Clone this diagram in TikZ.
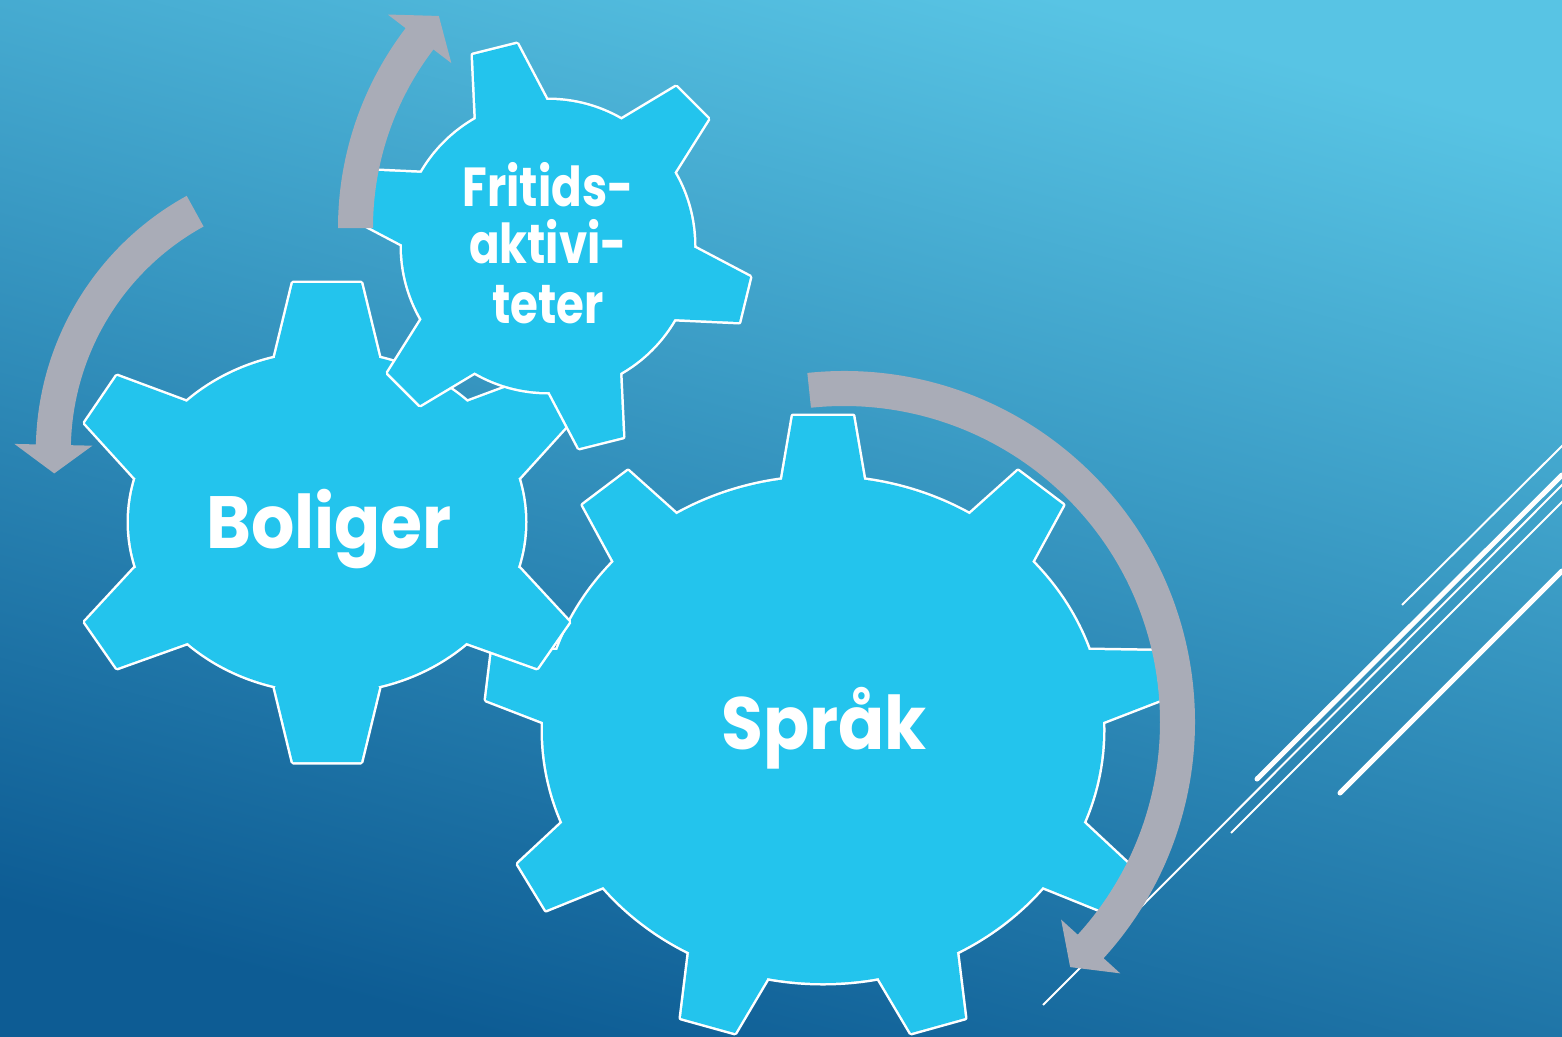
\documentclass[tikz,border=0pt]{standalone}
\usepackage{fontspec}
\newfontfamily\gearfont{Poppins}[FakeStretch=0.92]
\newfontfamily\gearfontsmall{Poppins}[FakeStretch=0.82]
\usetikzlibrary{calc}
\definecolor{geartint}{RGB}{35,196,237}
\definecolor{arrowgrey}{RGB}{169,172,183}
\definecolor{bgtop}{RGB}{88,196,228}
\definecolor{bgbot}{RGB}{13,92,148}
\tikzset{
  gearline/.style={draw=white, line width=5pt, line join=round},
  gearfill/.style={fill=geartint},
  decothin/.style={draw=white, line width=2pt},
  decothick/.style={draw=white, line width=5pt, line cap=round},
  arrowshape/.style={fill=arrowgrey},
  bigtext/.style={text=white, inner sep=0pt, anchor=base, font=\gearfont\bfseries\fontsize{74}{76}\selectfont},
  smalltext/.style={text=white, inner sep=0pt, anchor=base, font=\gearfontsmall\bfseries\fontsize{55}{57}\selectfont}
}
% tooth: style, centre, four outline points
\newcommand\gtooth[6]{\path[#1] (#3) -- (#4) -- (#5) -- (#6) -- (#2) -- cycle;}
% circular arrow: centre, mid radius, half width, barb offset, tail angle, end angle, tip angle
\newcommand\cirarrow[7]{%
  \fill[arrowshape] ($(#1)+(#5:{#2+#3})$) arc[start angle=#5, end angle=#6, radius={#2+#3}]
    -- ($(#1)+(#6:{#2+#4})$) -- ($(#1)+(#7:#2)$) -- ($(#1)+(#6:{#2-#4})$)
    -- ($(#1)+(#6:{#2-#3})$) arc[start angle=#6, end angle=#5, radius={#2-#3}] -- cycle;}
\newcommand\spraakteeth[1]{%
  \gtooth{#1}{823,730}{782,480}{793,416}{853,416}{864,480}
  \gtooth{#1}{823,730}{970,514}{1018,471}{1063,505}{1032,562}
  \gtooth{#1}{823,730}{1089,650}{1154,651}{1160,700}{1103,722}
  \gtooth{#1}{823,730}{1084,823}{1128,864}{1100,910}{1043,887}
  \gtooth{#1}{823,730}{957,953}{965,1018}{911,1033}{879,979}
  \gtooth{#1}{823,730}{767,979}{735,1033}{681,1018}{689,953}
  \gtooth{#1}{823,730}{603,887}{546,910}{518,864}{562,823}
  \gtooth{#1}{823,730}{543,722}{486,700}{492,651}{557,650}
  \gtooth{#1}{823,730}{614,562}{583,505}{628,471}{676,514}}
\newcommand\boligteeth[1]{%
  \gtooth{#1}{327,522}{275,357}{293,283}{361,283}{379,357}
  \gtooth{#1}{327,522}{467,402}{537,376}{569,423}{519,478}
  \gtooth{#1}{327,522}{519,568}{569,622}{537,668}{467,643}
  \gtooth{#1}{327,522}{379,688}{361,762}{293,762}{275,688}
  \gtooth{#1}{327,522}{187,643}{117,668}{85,622}{135,568}
  \gtooth{#1}{327,522}{135,478}{85,423}{117,376}{187,402}}
\newcommand\fritteeth[1]{%
  \gtooth{#1}{548,246}{476,119}{473,55}{517,44}{547,101}
  \gtooth{#1}{548,246}{621,120}{676,87}{708,119}{674,173}
  \gtooth{#1}{548,246}{693,247}{750,277}{739,322}{674,319}
  \gtooth{#1}{548,246}{620,373}{623,437}{579,448}{549,391}
  \gtooth{#1}{548,246}{475,372}{420,405}{388,373}{422,319}
  \gtooth{#1}{548,246}{403,245}{346,215}{357,170}{422,173}}
\begin{document}
\begin{tikzpicture}[x=1pt, y=-1pt]
  \useasboundingbox (0,0) rectangle (1562,1036);
  \shade[top color=bgtop, bottom color=bgbot, shading angle=-15] (-2,-2) rectangle (1564,1038);
  % decorative lines
  \draw[decothin] (1564,444) -- (1402,605);
  \draw[decothick] (1562,475) -- (1257,779);
  \draw[decothin] (1564,483) -- (1043,1005);
  \draw[decothin] (1564,500) -- (1231,833);
  \draw[decothick] (1562,571) -- (1340,793);
  % Spraak gear
  \path[gearline] (823,730) ellipse[x radius=280, y radius=253];
  \spraakteeth{gearline}
  \path[gearfill] (823,730) ellipse[x radius=280, y radius=253];
  \spraakteeth{gearfill}
  % Boliger gear
  \path[gearline] (327,522) ellipse[x radius=198, y radius=170];
  \boligteeth{gearline}
  \path[gearfill] (327,522) ellipse[x radius=198, y radius=170];
  \boligteeth{gearfill}
  % Fritids gear
  \path[gearline] (548,246) circle[radius=146];
  \fritteeth{gearline}
  \path[gearfill] (548,246) circle[radius=146];
  \fritteeth{gearfill}
  % arrows
  \cirarrow{667,228}{311.5}{17.5}{40}{180}{217.4}{222.9}
  \cirarrow{327,451}{273.7}{17.5}{39}{-118.8}{-178.7}{-184.7}
  \cirarrow{844,722}{333.5}{17.5}{40}{-96}{42.3}{47.3}
  % labels
  \node[bigtext] (boliger) at (329,548) {Boliger};
  \node[bigtext] (sprak) at (824,749) {Språk};
  \node[smalltext] (frit1) at (548,206) {Fritids-};
  \node[smalltext] (frit2) at (548,263) {aktivi-};
  \node[smalltext] (frit3) at (548,323) {teter};
\end{tikzpicture}
\end{document}
